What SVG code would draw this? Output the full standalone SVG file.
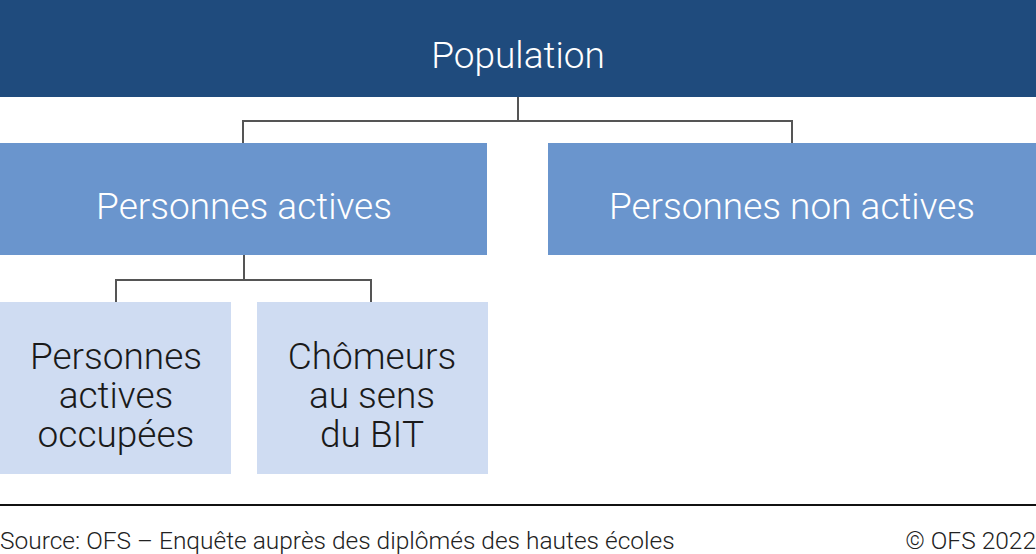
<svg xmlns="http://www.w3.org/2000/svg" width="1036" height="554" viewBox="0 0 1036 554">
<style>
.lbl{font-family:Roboto,"Liberation Sans",sans-serif;font-weight:300;text-anchor:middle;}
.w{fill:#ffffff;font-size:37px;}
.d{fill:#1a1a1a;font-size:37px;}
.conn{fill:none;stroke:#555555;stroke-width:2;}
.foot{font-family:Roboto,"Liberation Sans",sans-serif;font-weight:300;font-size:24.5px;fill:#222222;}
</style>
<rect width="1036" height="554" fill="#ffffff"/>
<g id="connectors">
<path class="conn" d="M518 97V121M243 143V121H792V143"/>
<path class="conn" d="M244 255V280M116 302V280H371V302"/>
</g>
<g id="population">
<rect x="0" y="0" width="1036" height="97" fill="#1f4b7d"/>
<text class="lbl w" x="518" y="68">Population</text>
</g>
<g id="actives">
<rect x="0" y="143" width="487" height="112" fill="#6a95cd"/>
<text class="lbl w" x="244" y="219">Personnes actives</text>
</g>
<g id="non-actives">
<rect x="548" y="143" width="488" height="112" fill="#6a95cd"/>
<text class="lbl w" x="792" y="219">Personnes non actives</text>
</g>
<g id="occupees">
<rect x="0" y="302" width="231" height="172" fill="#cfdcf2"/>
<text class="lbl d" x="116" y="369">Personnes<tspan x="116" dy="38.8">actives</tspan><tspan x="116" dy="38.8">occupées</tspan></text>
</g>
<g id="chomeurs">
<rect x="257" y="302" width="231" height="172" fill="#cfdcf2"/>
<text class="lbl d" x="372" y="369">Chômeurs<tspan x="372" dy="38.8">au sens</tspan><tspan x="372" dy="38.8">du BIT</tspan></text>
</g>
<line x1="0" y1="505" x2="1036" y2="505" stroke="#111111" stroke-width="2"/>
<text class="foot" x="0" y="549">Source: OFS – Enquête auprès des diplômés des hautes écoles</text>
<text class="foot" x="1036" y="549" text-anchor="end">© OFS 2022</text>
</svg>
